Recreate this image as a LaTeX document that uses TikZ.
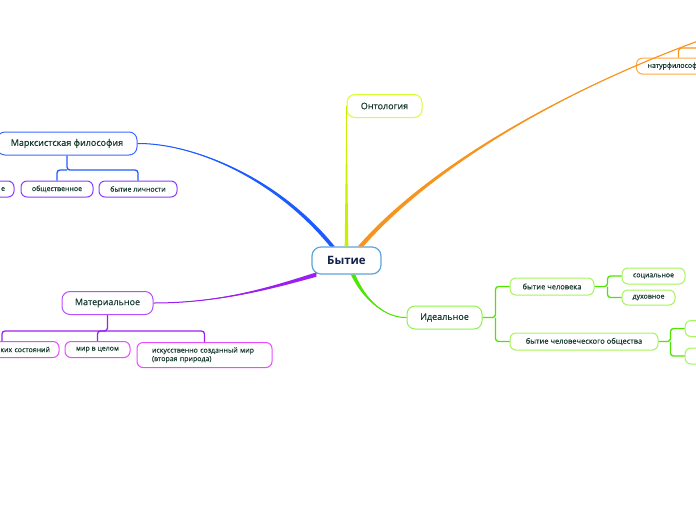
\documentclass[tikz,border=0pt]{standalone}
\usepackage{fontspec}
\setmainfont{Open Sans}
\newfontfamily\medfont[FakeBold=0.35]{Open Sans}
\usetikzlibrary{calc}

\definecolor{txt}{HTML}{173A2E}
\definecolor{betxt}{HTML}{10204A}
\definecolor{bebox}{HTML}{5DA5DA}
\definecolor{mxline}{HTML}{1E5BFF}
\definecolor{mxbox}{HTML}{3D6BFF}
\definecolor{mxleaf}{HTML}{8B3DFF}
\definecolor{matline}{HTML}{9B1FF0}
\definecolor{matbox}{HTML}{B84DFF}
\definecolor{matleaf}{HTML}{E64DFF}
\definecolor{ontline}{HTML}{C8F000}
\definecolor{ontbox}{HTML}{D4FF33}
\definecolor{orline}{HTML}{F7941D}
\definecolor{orbox}{HTML}{FFAA44}
\definecolor{idline}{HTML}{4CE600}
\definecolor{idbox}{HTML}{8CF542}
\definecolor{idleaf}{HTML}{A6F55A}

\begin{document}
\begin{tikzpicture}[x = 1pt, y = -1pt,
    box/.style = {draw, fill=white, line width=1pt, text=txt, inner sep=0pt, align=center},
    mainbx/.style = {box, rounded corners=8pt, minimum height=23pt, font=\medfont\fontsize{9}{11}\selectfont},
    leafbx/.style = {box, rounded corners=6pt, minimum height=16pt, font=\medfont\fontsize{7}{8.5}\selectfont},
    link/.style = {line width=1.3pt, rounded corners=3pt}]

    \useasboundingbox (0,0) rectangle (696,520);
    \clip (0,0) rectangle (696,520);

    % Центр
    \node[box, draw=bebox, line width=1.2pt, rounded corners=9pt, minimum width=69pt, minimum height=27pt,
          text=betxt, font=\fontsize{11.5}{13}\selectfont\bfseries] (be) at (346.5,260.5) {Бытие};

    % Онтология
    \node[mainbx, draw=ontbox, minimum width=75pt] (ont) at (384.5,106) {Онтология};

    % Марксистская философия
    \node[mainbx, draw=mxbox, minimum width=140pt] (mx) at (67,143.5) {Марксистская философия};
    \node[leafbx, draw=mxleaf, minimum width=74pt, text width=56pt, align=right] (ms1) at (-23,189) {е};
    \node[leafbx, draw=mxleaf, minimum width=72pt] (ms2) at (57,189) {общественное};
    \node[leafbx, draw=mxleaf, minimum width=78pt] (ms3) at (138,189) {бытие личности};

    % Материальное
    \node[mainbx, draw=matbox, minimum width=91pt] (mat) at (107.5,303) {Материальное};
    \node[leafbx, draw=matleaf, minimum width=114pt, text width=96pt, align=right] (mc1) at (2,349.5) {ких состояний};
    \node[leafbx, draw=matleaf, minimum width=65pt] (mc2) at (97.5,349.5) {мир в целом};
    \node[leafbx, draw=matleaf, minimum width=135pt, minimum height=25pt, text width=105pt, align=left,
          anchor=north] (mc3) at (204.5,342) {искусственно созданный мир\\(вторая природа)};

    % Идеальное
    \node[mainbx, draw=idbox, minimum width=75pt] (id) at (444.5,317.5) {Идеальное};
    \node[leafbx, draw=idleaf, minimum width=84pt, minimum height=17pt, font=\medfont\fontsize{7.5}{9}\selectfont] (ih1) at (552,286.5) {бытие человека};
    \node[leafbx, draw=idleaf, minimum width=148pt, minimum height=17pt, font=\medfont\fontsize{7.5}{9}\selectfont] (ih2) at (584,341.5) {бытие человеческого общества};
    \node[leafbx, draw=idleaf, minimum width=63pt] (ih11) at (653.5,276) {социальное};
    \node[leafbx, draw=idleaf, minimum width=53pt, minimum height=15pt] (ih12) at (648.5,297.5) {духовное};
    \node[leafbx, draw=idleaf, minimum width=40pt] (ih21) at (705,328.5) {};
    \node[leafbx, draw=idleaf, minimum width=40pt] (ih22) at (705,356) {};

    % Натурфилософия (за краем)
    \node[leafbx, draw=orbox, minimum width=84pt, text width=62pt, align=left, anchor=west] (nf) at (636,66) {натурфилософ};
    \coordinate (orpar) at (712,36);
    \coordinate (nfpar) at (720,48);

    % Ветви от центра
    \fill[mxline] (mx.east) .. controls (190,143) and (272,176) .. ($(be.135)+(-2.4,0)$)
        -- ($(be.135)+(2.4,0)$) .. controls (276,174) and (190,143) .. (mx.east) -- cycle;
    \draw[mxline, line width=1pt] (mx.east) .. controls (190,143) and (274,175) .. (be.135);

    \fill[ontline] (ont.west) -- ($(be.north)+(1.8,0)$) -- ($(be.north)+(-1.8,0)$) -- cycle;
    \draw[ontline, line width=1pt] (ont.west) -- (be.north);

    \fill[orline] (orpar) .. controls (565,88) and (432,168) .. ($(be.45)+(2.8,0)$)
        -- ($(be.45)+(-2.8,0)$) .. controls (428,166) and (565,88) .. (orpar) -- cycle;
    \draw[orline, line width=1.1pt] (orpar) .. controls (565,88) and (430,167) .. (be.45);

    \fill[matline] (mat.east) .. controls (225,303) and (282,286) .. ($(be.205)+(0,2.2)$)
        -- ($(be.205)+(0,-2.2)$) .. controls (282,283) and (225,303) .. (mat.east) -- cycle;
    \draw[matline, line width=1pt] (mat.east) .. controls (225,303) and (282,285) .. (be.205);

    \fill[idline] (id.west) .. controls (385,318) and (366,300) .. ($(be.295)+(2.2,0)$)
        -- ($(be.295)+(-2.2,0)$) .. controls (363,300) and (385,318) .. (id.west) -- cycle;
    \draw[idline, line width=1pt] (id.west) .. controls (385,318) and (365,300) .. (be.295);

    % Скобки к дочерним
    \draw[link, mxline] (mx.south) -- ++(0,14.5) -| (ms3.north);
    \draw[link, mxline] (mx.south) ++(0,14.5) -| (ms2.north);

    \draw[link, matline] (mat.south) -- ++(0,16) -| (mc1.north);
    \draw[link, matline] (mat.south) ++(0,16) -| (mc2.north);
    \draw[link, matline] (mat.south) ++(0,16) -| (mc3.north);

    \draw[link, idline] (id.east) -- ++(13,0) |- (ih1.west);
    \draw[link, idline] (id.east) ++(13,0) |- (ih2.west);
    \draw[link, idline] (ih1.east) -- ++(13,0) |- (ih11.west);
    \draw[link, idline] (ih1.east) ++(13,0) |- (ih12.west);
    \draw[link, idline] (ih2.east) -- ++(12,0) |- (ih21.west);
    \draw[link, idline] (ih2.east) ++(12,0) |- (ih22.west);

    \draw[link, orline] (nfpar) -| (nf.north);

\end{tikzpicture}
\end{document}
